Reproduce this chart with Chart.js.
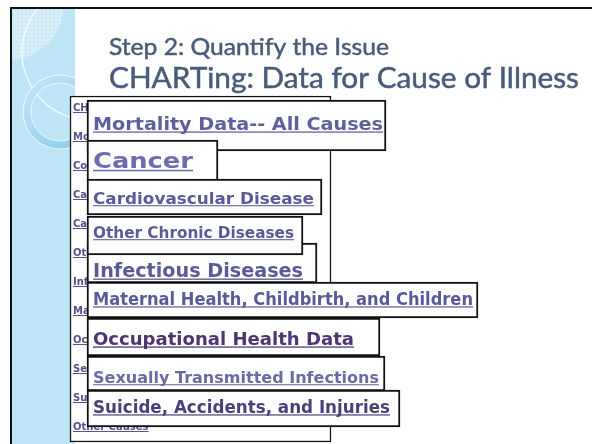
<!DOCTYPE html>
<html>
<head>
<meta charset="utf-8">
<script src="https://cdn.jsdelivr.net/npm/chart.js@4.4.1/dist/chart.umd.min.js"></script>
<style>
  html, body { margin: 0; padding: 0; background: #fff; }
  #wrap { width: 592px; height: 444px; }
</style>
</head>
<body>
<div id="wrap"><canvas id="slide"></canvas></div>
<script>
// link boxes on the slide, in slide units (top/bottom/left/right)
const linkLabels = [
  'Mortality Data-- All Causes',
  'Cancer',
  'Cardiovascular Disease',
  'Infectious Diseases',
  'Other Chronic Diseases',
  'Maternal Health, Childbirth, and Children',
  'Occupational Health Data',
  'Sexually Transmitted Infections',
  'Suicide, Accidents, and Injuries'
];
const boxLeft   = [87, 87, 87, 87, 87, 87, 87, 87, 87];
const boxRight  = [386, 218, 322, 317, 303, 478, 380, 385, 400];
const boxTop    = [100, 140, 179, 243, 216, 282, 318, 356, 390];
const boxBottom = [151, 181, 215, 283, 255, 318, 356, 391, 427];

// the web page behind the boxes
const panelX = [70, 331];
const panelY = [96, 442];
const sideLinks = [
  'CHARTing Home', 'Mortality Data', 'Compare Causes', 'Cancer',
  'Cardiovascular Disease', 'Other Chronic Diseases', 'Infectious Diseases',
  'Maternal Health', 'Occupational Health', 'Sexually Transmitted Infections',
  'Suicide, Accidents, and Injuries', 'Other Causes'
];

const titleLines = ['Step 2: Quantify the Issue', 'CHARTing: Data for Cause of Illness'];

// text styling for each box label (cap size, baseline, fitted width, colour)
const labelSize  = [18, 22, 15, 19, 15, 17, 18, 15, 17];
const labelBase  = [130, 168, 204, 277, 238, 305, 345, 383, 413];
const labelWidth = [290, 100, 221, 210, 201, 380, 261, 286, 297];
const labelColor = ['#5f5f9e', '#6c6cb0', '#5a5a98', '#5a5a98', '#5a5a98',
                    '#5a5a98', '#4e3572', '#6a6aa6', '#4a3f78'];

const W = 592, H = 444;

function fitText(ctx, text, x, y, size, width, color, underline) {
  ctx.save();
  ctx.font = 'bold ' + size + 'px "DejaVu Sans", Verdana, sans-serif';
  const m = ctx.measureText(text).width;
  const sx = width ? width / m : 1;
  ctx.translate(x, y);
  ctx.scale(sx, 1);
  ctx.fillStyle = color;
  ctx.textBaseline = 'alphabetic';
  ctx.fillText(text, 0, 0);
  if (underline) {
    ctx.fillRect(0, Math.max(1, size * 0.08), m, Math.max(1, size * 0.07));
  }
  ctx.restore();
}

// slide background: frame, blue band, decorations, title
const slideDecor = {
  id: 'slideDecor',
  beforeDatasetsDraw(chart) {
    const ctx = chart.ctx;
    ctx.save();
    ctx.fillStyle = '#fff';
    ctx.fillRect(0, 0, W, H);
    // blue band
    ctx.fillStyle = '#bde5f5';
    ctx.fillRect(12, 9, 63, H);
    ctx.beginPath();
    ctx.rect(12, 9, 63, H);
    ctx.clip();
    // grid circle top-left
    ctx.save();
    ctx.beginPath();
    ctx.arc(8, 4, 56, 0, Math.PI * 2);
    ctx.clip();
    ctx.fillStyle = '#cbe9f6';
    ctx.fillRect(0, 0, 80, 80);
    ctx.strokeStyle = 'rgba(255,255,255,0.5)';
    ctx.lineWidth = 0.7;
    for (let i = 0; i < 80; i += 4) {
      ctx.beginPath(); ctx.moveTo(i, 0); ctx.lineTo(i, 80); ctx.stroke();
      ctx.beginPath(); ctx.moveTo(0, i); ctx.lineTo(80, i); ctx.stroke();
    }
    ctx.restore();
    // thin white arc
    ctx.strokeStyle = 'rgba(255,255,255,0.8)';
    ctx.lineWidth = 1.3;
    ctx.beginPath();
    ctx.arc(90, 52, 68, Math.PI * 0.55, Math.PI * 1.35);
    ctx.stroke();
    // ring
    ctx.beginPath();
    ctx.arc(60, 112, 37, 0, Math.PI * 2);
    ctx.arc(60, 112, 29, 0, Math.PI * 2, true);
    const g = ctx.createLinearGradient(24, 75, 95, 150);
    g.addColorStop(0, '#c4e8f8');
    g.addColorStop(1, '#88c8ee');
    ctx.fillStyle = g;
    ctx.fill('evenodd');
    ctx.strokeStyle = 'rgba(255,255,255,0.7)';
    ctx.lineWidth = 1;
    ctx.stroke();
    ctx.restore();

    // frame
    ctx.save();
    ctx.fillStyle = '#111';
    ctx.fillRect(10, 7, W - 10, 2);
    ctx.fillRect(10, 7, 2, H - 7);
    // title
    ctx.fillStyle = '#485b7b';
    ctx.textBaseline = 'alphabetic';
    const fams = '"Gill Sans MT", "Gill Sans", Lato, sans-serif';
    [[titleLines[0], 55, 24, 280], [titleLines[1], 88, 29, 470]].forEach(([t, y, s, w]) => {
      ctx.save();
      ctx.font = s + 'px ' + fams;
      const m = ctx.measureText(t).width;
      ctx.translate(109, y);
      ctx.scale(w / m, 1);
      ctx.fillText(t, 0, 0);
      ctx.strokeStyle = '#485b7b';
      ctx.lineWidth = 0.5;
      ctx.strokeText(t, 0, 0);
      ctx.restore();
    });
    ctx.restore();
  },
  afterDatasetDraw(chart, args) {
    const ctx = chart.ctx;
    const ds = chart.data.datasets[args.index];
    if (ds.kind === 'panel') {
      sideLinks.forEach((t, i) => {
        fitText(ctx, t, 73, 111 + i * 29, 10, 0, '#5a4f8c', true);
      });
    } else if (ds.kind === 'link') {
      const k = ds.linkIndex;
      fitText(ctx, linkLabels[k], 93, labelBase[k], labelSize[k], labelWidth[k], labelColor[k], true);
    }
  }
};

const datasets = [];
datasets.push({
  kind: 'panel',
  data: [{ x: panelX, y: (panelY[0] + panelY[1]) / 2 }],
  barThickness: panelY[1] - panelY[0],
  backgroundColor: '#fff',
  borderColor: '#111',
  borderWidth: 1.5,
  borderSkipped: false,
  grouped: false,
  order: 100
});
linkLabels.forEach((label, i) => {
  datasets.push({
    kind: 'link',
    linkIndex: i,
    label: label,
    data: [{ x: [boxLeft[i], boxRight[i]], y: (boxTop[i] + boxBottom[i]) / 2 }],
    barThickness: boxBottom[i] - boxTop[i],
    backgroundColor: '#fff',
    borderColor: '#111',
    borderWidth: 2,
    borderSkipped: false,
    grouped: false,
    order: 50 - i
  });
});

new Chart(document.getElementById('slide'), {
  type: 'bar',
  data: { datasets },
  options: {
    indexAxis: 'y',
    responsive: true,
    maintainAspectRatio: false,
    animation: false,
    layout: { padding: 0 },
    scales: {
      x: { type: 'linear', min: 0, max: W, display: false, offset: false },
      y: { type: 'linear', min: 0, max: H, reverse: true, display: false, offset: false }
    },
    plugins: {
      legend: { display: false },
      tooltip: { enabled: false }
    }
  },
  plugins: [slideDecor]
});
</script>
</body>
</html>
